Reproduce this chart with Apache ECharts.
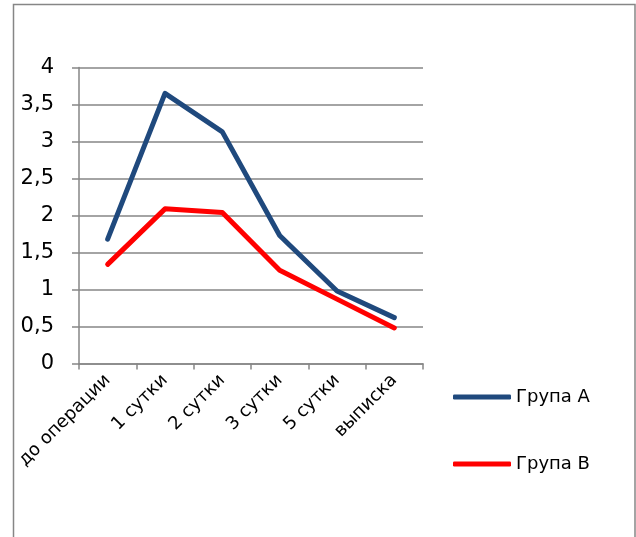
<!DOCTYPE html>
<html>
<head>
<meta charset="utf-8">
<script src="https://cdn.jsdelivr.net/npm/echarts@6/dist/echarts.min.js"></script>
<style>
  html, body { margin: 0; padding: 0; background: #fff; }
  #chart { width: 636px; height: 537px; }
</style>
</head>
<body>
<div id="chart"></div>
<script>
// Periods of observation
const categories = ['до операции', '1 сутки', '2 сутки', '3 сутки', '5 сутки', 'выписка'];
// Mean scores per group
const groupA = [1.68, 3.65, 3.13, 1.73, 0.98, 0.62];
const groupB = [1.34, 2.09, 2.04, 1.26, 0.87, 0.48];
const seriesNames = ['Група А', 'Група В'];
const yTicks = { min: 0, max: 4, step: 0.5 };

const FONT = 'DejaVu Sans';
const GRID_GRAY = '#868686';

const chart = echarts.init(document.getElementById('chart'), null, { renderer: 'canvas' });

chart.setOption({
  backgroundColor: '#ffffff',
  animation: false,
  graphic: [{
    type: 'rect',
    shape: { x: 13.5, y: 4.5, width: 621.5, height: 560 },
    style: { fill: 'none', stroke: GRID_GRAY, lineWidth: 1.5 },
    silent: true
  }],
  grid: { left: 79, top: 67.5, right: 213, bottom: 173.5, containLabel: false },
  legend: {
    orient: 'vertical',
    left: 453,
    top: 388,
    padding: 0,
    itemWidth: 58,
    itemHeight: 5,
    itemGap: 49,
    icon: 'roundRect',
    textStyle: { fontFamily: FONT, fontSize: 18, color: '#000' },
    data: seriesNames
  },
  xAxis: {
    type: 'category',
    data: categories,
    boundaryGap: true,
    axisLine: { lineStyle: { color: GRID_GRAY, width: 1.5 } },
    axisTick: { show: true, length: 6, lineStyle: { color: GRID_GRAY, width: 1.5 } },
    axisLabel: {
      rotate: 45,
      margin: 14,
      interval: 0,
      fontFamily: FONT,
      fontSize: 18,
      color: '#000'
    }
  },
  yAxis: {
    type: 'value',
    min: yTicks.min,
    max: yTicks.max,
    interval: yTicks.step,
    axisLine: { show: true, lineStyle: { color: GRID_GRAY, width: 1.5 } },
    axisTick: { show: true, length: 7, lineStyle: { color: GRID_GRAY, width: 1.5 } },
    splitLine: { show: true, lineStyle: { color: GRID_GRAY, width: 1.5 } },
    axisLabel: {
      margin: 25,
      fontFamily: FONT,
      fontSize: 21,
      color: '#000',
      formatter: v => String(v).replace('.', ',')
    }
  },
  series: [
    {
      name: seriesNames[0],
      type: 'line',
      data: groupA,
      symbol: 'none',
      color: '#1F497D',
      lineStyle: { color: '#1F497D', width: 5, cap: 'round', join: 'round' }
    },
    {
      name: seriesNames[1],
      type: 'line',
      data: groupB,
      symbol: 'none',
      color: '#FF0000',
      lineStyle: { color: '#FF0000', width: 5, cap: 'round', join: 'round' }
    }
  ]
});
</script>
</body>
</html>
